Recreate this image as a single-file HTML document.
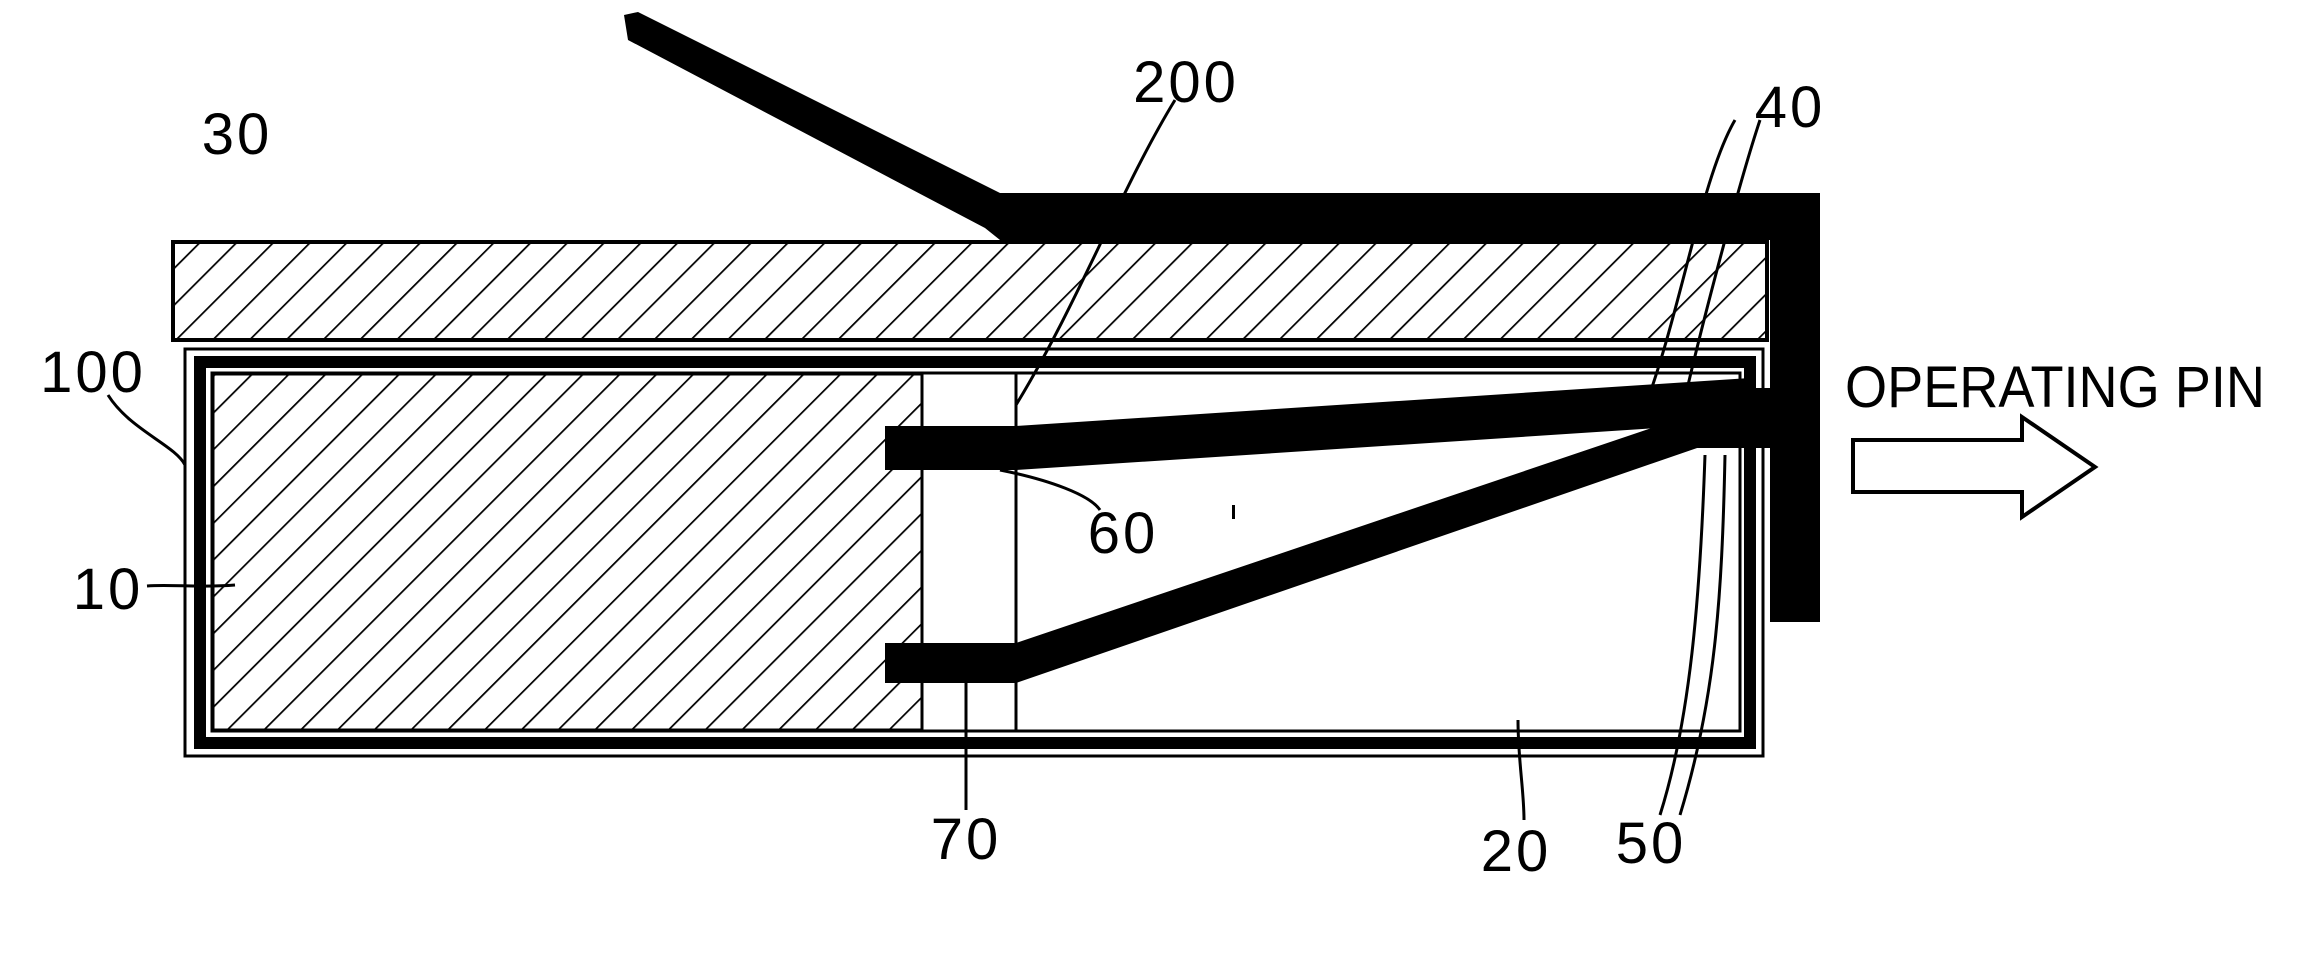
<!DOCTYPE html>
<html><head><meta charset="utf-8"><style>
html,body{margin:0;padding:0;background:#fff;}
svg{display:block;}
text{font-family:"Liberation Sans",sans-serif;fill:#000;}
</style></head><body>
<svg width="2302" height="972" viewBox="0 0 2302 972" xmlns="http://www.w3.org/2000/svg">
<defs>
<pattern id="h" patternUnits="userSpaceOnUse" width="26" height="26" patternTransform="rotate(45)">
<line x1="0" y1="0" x2="0" y2="26" stroke="#000" stroke-width="3.5"/>
</pattern>
</defs>
<rect x="173" y="242" width="1594" height="98" fill="url(#h)" stroke="#000" stroke-width="4"/>
<rect x="185" y="349" width="1578" height="407" fill="none" stroke="#000" stroke-width="3"/>
<rect x="200" y="362" width="1550" height="381" fill="none" stroke="#000" stroke-width="12"/>
<rect x="212" y="373" width="1528" height="358" fill="none" stroke="#000" stroke-width="3"/>
<rect x="213" y="374" width="709" height="356" fill="url(#h)" stroke="#000" stroke-width="3"/>
<line x1="1016" y1="374" x2="1016" y2="730" stroke="#000" stroke-width="3"/>
<polygon points="624,15 638,12 1000,193 1820,193 1820,622 1770,622 1770,240 1000,240 985,228 628,40" fill="#000"/>
<polygon points="885,426 1016,426 1750,378 1750,422 1016,470 885,470" fill="#000"/>
<polygon points="885,643 1016,643 1690,415 1700,447 1016,683 885,683" fill="#000"/>
<rect x="1687" y="388" width="85" height="60" fill="#000"/>
<g fill="none" stroke="#000" stroke-width="3">
<path d="M1175,100 C1120,190 1080,300 1016,405"/>
<path d="M1735,120 C1700,180 1680,320 1640,420"/>
<path d="M1760,120 C1740,180 1700,330 1680,420"/>
<path d="M108,395 C130,430 175,445 185,465"/>
<path d="M147,586 C170,584 200,588 235,585"/>
<path d="M1000,470 C1050,480 1090,495 1100,510"/>
<path d="M966,810 C966,760 966,700 966,683"/>
<path d="M1524,820 C1524,790 1518,760 1518,720"/>
<path d="M1660,815 C1690,720 1700,600 1705,455"/>
<path d="M1680,815 C1715,700 1722,600 1725,455"/>
</g>
<polygon points="1853,440 2022,440 2022,417 2095,467 2022,517 2022,492 1853,492" fill="none" stroke="#000" stroke-width="4"/>
<g font-size="58" text-anchor="middle" letter-spacing="3">
<text x="1186" y="102">200</text>
<text x="237" y="154">30</text>
<text x="1790" y="127">40</text>
<text x="93" y="392">100</text>
<text x="108" y="609">10</text>
<text x="1123" y="553">60</text>
<text x="966" y="859">70</text>
<text x="1516" y="871">20</text>
<text x="1651" y="863">50</text>
</g>
<text x="1845" y="407" font-size="58" textLength="420" lengthAdjust="spacingAndGlyphs">OPERATING PIN</text>
<rect x="1232" y="505" width="3" height="14" fill="#000"/>
</svg>
</body></html>
